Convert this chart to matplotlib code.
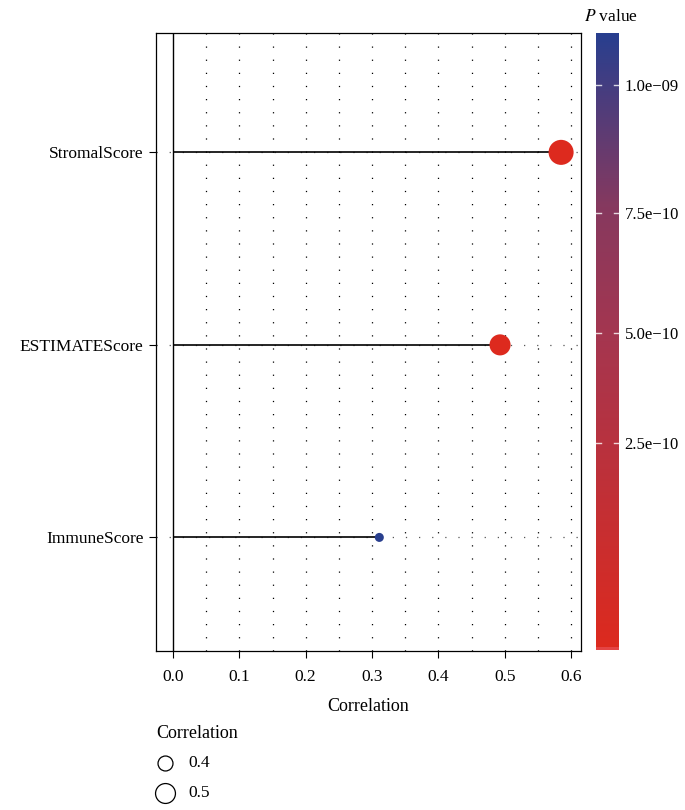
import numpy as np
import matplotlib
matplotlib.use("Agg")
import matplotlib.pyplot as plt
from matplotlib.colors import LinearSegmentedColormap, FuncNorm
from matplotlib.lines import Line2D

plt.rcParams['font.family'] = ['Liberation Serif', 'DejaVu Serif']
plt.rcParams['mathtext.fontset'] = 'stix'

# ---- data ----
categories = ["ImmuneScore", "ESTIMATEScore", "StromalScore"]
correlation = [0.311, 0.493, 0.585]
pvalues = [1.1e-9, 1e-17, 1e-20]
cbar_ticks = [2.5e-10, 5.0e-10, 7.5e-10, 1.0e-9]
cbar_ticklabels = ["2.5e\u221210", "5.0e\u221210", "7.5e\u221210", "1.0e\u221209"]
xticks = [0.0, 0.1, 0.2, 0.3, 0.4, 0.5, 0.6]
legend_vals = [0.4, 0.5]

# ---- styles ----
cmap = LinearSegmentedColormap.from_list(
    "pv", [(0.0, "#DD2A1E"), (0.5, "#A6364F"), (0.72, "#86395F"), (1.0, "#283F8F")])
nv = [0.0, 2.5e-10, 5.0e-10, 7.5e-10, 1.0e-9, 1.11e-9]
nf = [0.0, 0.3355, 0.5138, 0.7083, 0.9157, 1.0]
norm = FuncNorm((lambda v: np.interp(v, nv, nf), lambda f: np.interp(f, nf, nv)),
                vmin=0.0, vmax=1.11e-9)

def size_of(r):
    r = np.asarray(r)
    return np.clip(-536 + 1985 * r, 20, None) * 0.52

fig = plt.figure(figsize=(6.85, 8.1), dpi=100)
ax = fig.add_axes([156/685, 1-651/810, (581-156)/685, (651-33)/810])

ypos = np.arange(1, len(categories) + 1)
ax.set_xlim(-0.0256, 0.615)
ax.set_ylim(0.41, 3.62)

# grid
for gx in np.arange(0.05, 0.61, 0.05):
    ax.axvline(gx, color="black", lw=0.9, ls=(0, (1, 9.5)), zorder=0)
for y in ypos:
    ax.axhline(y, color="#555555", lw=0.9, ls=(0, (1, 9.5)), zorder=0)
ax.axvline(0, color="black", lw=1.0, zorder=1)

ax.hlines(ypos, 0, correlation, color="black", lw=1.2, zorder=2)
colors = [cmap(norm(p)) for p in pvalues]
ax.scatter(correlation, ypos, s=size_of(correlation), c=colors, zorder=3, linewidths=0)

ax.set_yticks(ypos)
ax.set_yticklabels(categories, fontsize=12.5)
ax.set_xticks(xticks)
ax.set_xticklabels([f"{t:.1f}" for t in xticks], fontsize=12.5)
ax.tick_params(axis="both", direction="out", length=5, width=0.8, color="black")
ax.tick_params(axis="x", pad=8)
ax.tick_params(axis="y", pad=4)
ax.set_xlabel("Correlation", fontsize=13, labelpad=9)
for s in ax.spines.values():
    s.set_linewidth(0.9)

# colorbar
cax = fig.add_axes([596/685, 1-650/810, 23/685, (650-33)/810])
grad = np.linspace(0, 1, 256).reshape(-1, 1)
cax.imshow(grad, aspect="auto", cmap=cmap, origin="lower", extent=[0, 1, 0, 1])
cax.axhspan(0, 0.005, color="#E44444", lw=0)
cax.set_xlim(0, 1)
cax.set_ylim(0, 1)
cax.set_xticks([])
tick_f = [norm(t) for t in cbar_ticks]
cax.yaxis.tick_right()
cax.set_yticks(tick_f)
cax.set_yticklabels(cbar_ticklabels, fontsize=12)
cax.tick_params(axis="y", length=0, pad=4)
for f in tick_f:
    cax.plot([0, 0.22], [f, f], color="white", lw=1, alpha=0.8)
    cax.plot([0.78, 1], [f, f], color="white", lw=1, alpha=0.8)
for s in cax.spines.values():
    s.set_visible(False)
fig.text(584/685, 1-17/810, "$P$ value", fontsize=12.5, va="center", ha="left")

# size legend
fig.text(156/685, 1-733/810, "Correlation", fontsize=13, va="center", ha="left")
for v, yy in zip(legend_vals, [763, 793]):
    d_pt = np.sqrt(size_of(v)) * 0.93
    fig.lines.append(Line2D([165/685], [1-yy/810], marker="o", markersize=d_pt,
                            markerfacecolor="none", markeredgecolor="black",
                            markeredgewidth=0.9, transform=fig.transFigure, ls="none"))
    fig.text(188/685, 1-yy/810, f"{v}", fontsize=12.5, va="center", ha="left")

fig.savefig("out.png", dpi=100)
